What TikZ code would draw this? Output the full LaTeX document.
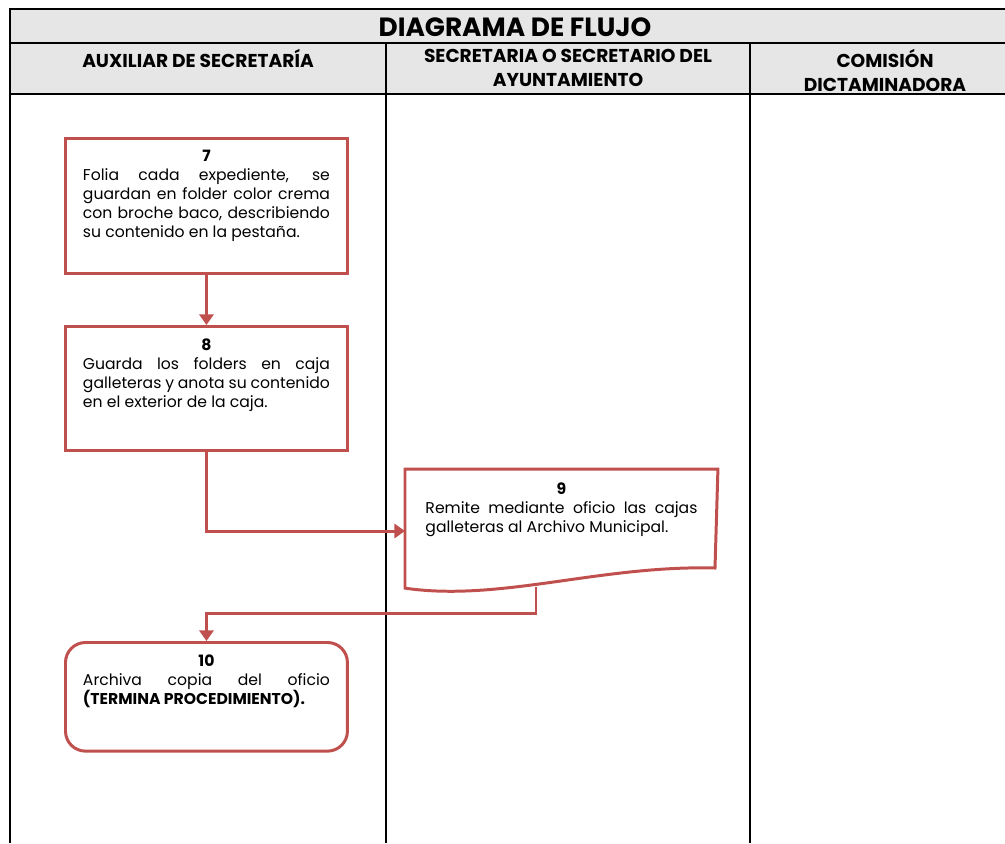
\documentclass[tikz,border=0pt]{standalone}
\usepackage{fontspec}
\setmainfont{Poppins}
\usetikzlibrary{arrows.meta,positioning}
\definecolor{rojo}{HTML}{C0504D}
\definecolor{gris}{HTML}{E6E6E6}
\hyphenpenalty=10000
\exhyphenpenalty=10000
\begin{document}
\begin{tikzpicture}[x=0.02cm,y=-0.02cm,
  caja/.style={draw=rojo, line width=1.7pt, fill=white, anchor=north west, align=justify,
    text width=4.94cm, inner xsep=0.35cm, inner ysep=0.24cm, font=\fontsize{8.9}{10.8}\selectfont},
  flecha/.style={draw=rojo, line width=1.7pt, -{Triangle[width=8pt,length=6pt]}},
  linea/.style={line width=0.8pt},
  titulo/.style={anchor=north, align=center, font=\bfseries\fontsize{10.6}{13.6}\selectfont}]
\useasboundingbox (0,0) rectangle (1005,843);

% Encabezado de la tabla
\fill[gris] (10,9) rectangle (1005,94);
\draw[linea] (1005,9) -- (10,9) -- (10,843);
\draw[linea] (10,43) -- (1005,43);
\draw[linea] (10,94) -- (1005,94);
\draw[linea] (386,43) -- (386,843);
\draw[linea] (750,43) -- (750,843);
\node[font=\bfseries\fontsize{15}{18}\selectfont] (diagrama) at (515,27) {DIAGRAMA DE FLUJO};
\node[titulo] (auxiliar) at (198,43) {AUXILIAR DE SECRETARÍA};
\node[titulo] (secretaria) at (568,43) {SECRETARIA O SECRETARIO DEL\\AYUNTAMIENTO};
\node[titulo] (comision) at (885,43) {COMISIÓN\\DICTAMINADORA};

% Pasos
\node[caja, text depth=2.0cm] (paso7) at (64,137) {{\centering\textbf{7}\par}Folia cada expediente, se\linebreak guardan en folder color crema\linebreak con broche baco, describiendo\linebreak su contenido en la pestaña.};
\node[caja, text depth=1.76cm] (paso8) at (64,325) {{\centering\textbf{8}\par}Guarda los folders en caja\linebreak galleteras y anota su contenido\linebreak en el exterior de la caja.};
\node[caja, draw=none, fill=none, text width=5.44cm, inner xsep=0.38cm, text depth=1.61cm] (paso9) at (405,469) {{\centering\textbf{9}\par}Remite mediante oficio las cajas\linebreak galleteras al Archivo Municipal.};
\draw[draw=rojo, line width=1.7pt] (paso9.north west) -- (paso9.north east) -- (715,568)
  .. controls (600,565) and (500,602) .. (paso9.south west) -- cycle;
\node[caja, rounded corners=0.4cm, text depth=1.46cm] (paso10) at (64,641) {{\centering\textbf{10}\par}Archiva copia del oficio\linebreak\textbf{(TERMINA PROCEDIMIENTO).}};

% Conectores
\coordinate (entra9) at (405,531);
\coordinate (sale9) at (536,587);
\draw[flecha] (paso7.south) -- (paso8.north);
\draw[flecha] (paso8.south) |- (entra9);
\draw[flecha] (sale9) -- ++(0,26) -| (paso10.north);
\end{tikzpicture}
\end{document}
